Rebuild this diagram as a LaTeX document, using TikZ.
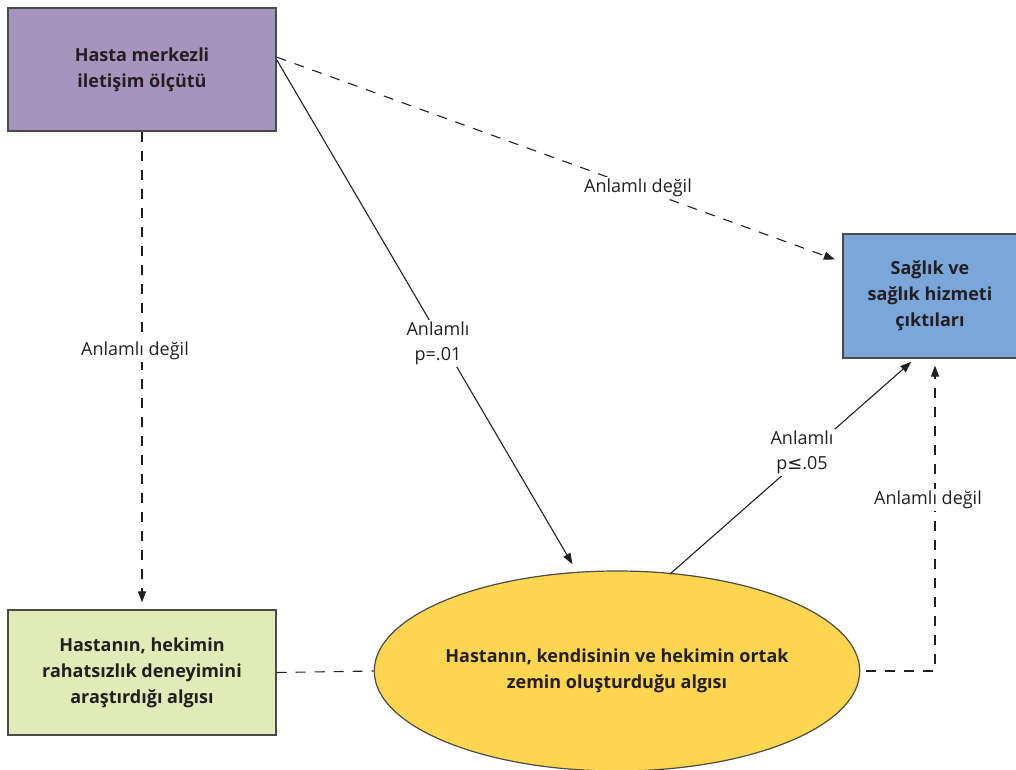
\documentclass[tikz,border=0pt]{standalone}
\usepackage{fontspec}
\setmainfont{Open Sans}
\newfontfamily\symf{DejaVu Sans}
\usetikzlibrary{shapes.geometric,arrows.meta,calc}
\definecolor{purp}{HTML}{A794BE}
\definecolor{blu}{HTML}{7BA6DA}
\definecolor{grn}{HTML}{E0EBB8}
\definecolor{yel}{HTML}{FFD64F}
\definecolor{txt}{HTML}{231F20}
\definecolor{edge}{HTML}{4A4A4A}
\begin{document}
\begin{tikzpicture}[x=1pt,y=-1pt,
  box/.style={draw=edge, line width=1.2pt, align=center, inner sep=0pt,
    font=\bfseries\fontsize{18}{26}\selectfont, text=txt},
  lbl/.style={fill=white, align=center, inner sep=2pt,
    font=\fontsize{18}{25}\selectfont, text=txt},
  conn/.style={line width=1.1pt, draw=txt},
  dsh/.style={conn, dash pattern=on 10pt off 9pt},
  arr/.style={-{Triangle[length=11pt,width=8pt]}}]
\useasboundingbox (0,0) rectangle (1016,770);
\node[box, fill=purp, minimum width=268pt, minimum height=123pt] (hm) at (142,69.5) {Hasta merkezli\\iletişim ölçütü};
\node[box, fill=blu, minimum width=174pt, minimum height=124pt] (sh) at (930,296) {Sağlık ve\\sağlık hizmeti\\çıktıları};
\node[box, fill=grn, minimum width=268pt, minimum height=125pt] (ha) at (142,672.5) {Hastanın, hekimin\\rahatsızlık deneyimini\\araştırdığı algısı};
\node[box, ellipse, fill=yel, minimum width=482pt, minimum height=200pt] (ze) at (617,671) {Hastanın, kendisinin ve hekimin ortak\\zemin oluşturduğu algısı};
% connectors
\coordinate (a1) at ($(hm.north east)!0.4!(hm.south east)$);
\coordinate (a2) at ($(hm.north east)!0.42!(hm.south east)$);
\coordinate (b1) at ($(sh.north west)!0.23!(sh.south west)$);
\coordinate (e1) at ($(ze.center)+(-40,-99)$);
\coordinate (e2) at ($(ze.center)+(53,-97)$);
\coordinate (s1) at ($(sh.south)+(-15,0)$);
\coordinate (s2) at ($(sh.south)+(5,0)$);
\draw[dsh,arr,shorten >=7pt] (hm.south) -- (ha.north);
\draw[dsh,arr,shorten >=8pt] (a1) -- (b1);
\draw[conn,arr,shorten >=9pt] (a2) -- (e1);
\draw[conn,arr,shorten >=5pt] (e2) -- (s1);
\draw[dsh] (ha.east) -- (ze.west);
\draw[dsh,arr,shorten >=7pt] ([xshift=6pt]ze.east) -| (s2);
% labels
\node[lbl] (l1) at (135,351) {Anlamlı değil};
\node[lbl] (l2) at (638,188) {Anlamlı değil};
\node[lbl] (l3) at (438,343) {Anlamlı\\p=.01};
\node[lbl] (l4) at (802,452) {Anlamlı\\p{\symf ≤}.05};
\node[lbl] (l5) at (928,500) {Anlamlı değil};
\end{tikzpicture}
\end{document}
